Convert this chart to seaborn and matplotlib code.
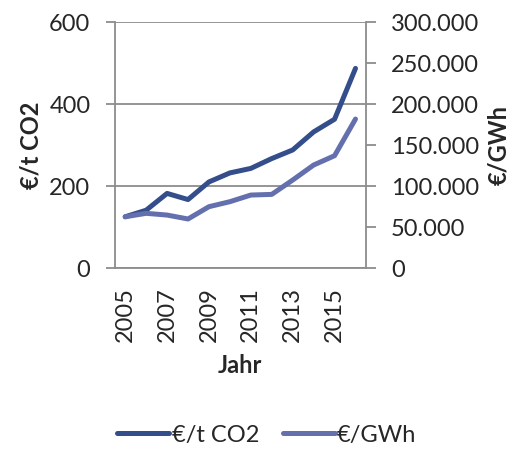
import numpy as np
import pandas as pd
import matplotlib
matplotlib.use("Agg")
import matplotlib.pyplot as plt
import seaborn as sns
from matplotlib.ticker import FuncFormatter, FixedLocator

years = [2005, 2006, 2007, 2008, 2009, 2010, 2011, 2012, 2013, 2014, 2015, 2016]
eur_per_t_co2 = [125, 141, 182, 167, 210, 232, 243, 267, 288, 332, 363, 487]
eur_per_gwh = [62500, 66700, 64600, 59800, 74800, 80900, 89000, 89800,
               107300, 125600, 137000, 181700]

DARK = "#344E8C"
LIGHT = "#6470AE"
GRAY = "#8C8C8C"

sns.set_style("white")
plt.rcParams["font.family"] = ["Lato", "DejaVu Sans"]
plt.rcParams["font.size"] = 17

df = pd.DataFrame({"Jahr": years, "co2": eur_per_t_co2, "gwh": eur_per_gwh})

fig = plt.figure(figsize=(5.18, 4.5), dpi=100)
ax = fig.add_axes([0.2215, 0.4044, 0.485, 0.5466])
ax2 = ax.twinx()

sns.lineplot(data=df, x="Jahr", y="co2", ax=ax, color=DARK, lw=3.6,
             label="€/t CO2", legend=False, solid_capstyle="round")
sns.lineplot(data=df, x="Jahr", y="gwh", ax=ax2, color=LIGHT, lw=3.6,
             label="€/GWh", legend=False, solid_capstyle="round")

ax.set_xlim(2004.5, 2016.5)
ax.set_ylim(0, 600)
ax2.set_ylim(0, 300000)
ax.set_yticks([0, 200, 400, 600])
ax2.set_yticks(np.arange(0, 300001, 50000))
ax2.yaxis.set_major_formatter(
    FuncFormatter(lambda v, p: "0" if v == 0 else f"{int(v):,}".replace(",", "."))
)

# category boundaries get tick marks, odd years get labels
ax.xaxis.set_major_locator(FixedLocator(years[::2]))
ax.set_xticklabels([str(y) for y in years[::2]], rotation=90)
ax.xaxis.set_minor_locator(FixedLocator(np.arange(2004.5, 2017, 1)))
ax.tick_params(axis="x", which="major", length=0, pad=14)
ax.tick_params(axis="x", which="minor", length=6.5, width=1.3, color=GRAY, direction="out")

ax.tick_params(axis="y", length=6.5, width=1.3, color=GRAY, direction="out", pad=11)
ax2.tick_params(axis="y", length=7, width=1.3, color=GRAY, direction="out", pad=11)

ax.yaxis.grid(True, color=GRAY, lw=1.3)
ax.set_axisbelow(True)

for a in (ax, ax2):
    for s in a.spines.values():
        s.set_visible(False)
ax.spines["left"].set_visible(True)
ax.spines["bottom"].set_visible(True)
ax2.spines["right"].set_visible(True)
for s in (ax.spines["left"], ax.spines["bottom"], ax2.spines["right"]):
    s.set_color(GRAY)
    s.set_linewidth(1.3)

ax.set_xlabel("Jahr", fontweight="bold", labelpad=8)
ax.set_ylabel("€/t CO2", fontweight="bold", labelpad=5)
ax2.set_ylabel("€/GWh", fontweight="bold", labelpad=6)

h1, l1 = ax.get_legend_handles_labels()
h2, l2 = ax2.get_legend_handles_labels()
fig.legend(h1 + h2, l1 + l2, loc="center", bbox_to_anchor=(0.515, 0.033),
           ncol=2, frameon=False, handlelength=2.2, handletextpad=0.1,
           columnspacing=1.0)

plt.savefig("out.png", dpi=100)
plt.close()
